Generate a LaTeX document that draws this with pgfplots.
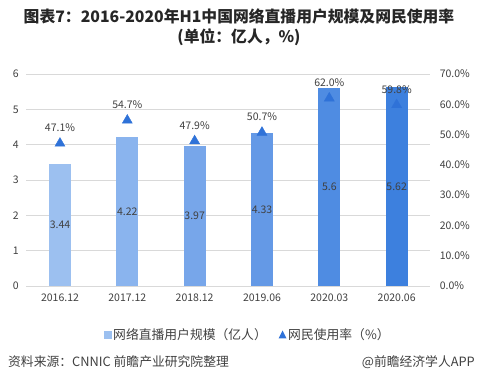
\documentclass[border=0pt]{standalone}
\usepackage{pgfplots}
\pgfplotsset{compat=1.18}
\usepackage{fontspec}
\setmainfont{Noto Sans CJK SC}
\definecolor{b1}{HTML}{9CC0F0}
\definecolor{b2}{HTML}{8AB4EE}
\definecolor{b3}{HTML}{77A6EA}
\definecolor{b4}{HTML}{6499E6}
\definecolor{b5}{HTML}{4F8CE2}
\definecolor{b6}{HTML}{3D80DE}
\definecolor{tri}{HTML}{2F72D8}
\definecolor{txt}{HTML}{404040}
\definecolor{gridc}{HTML}{D9D9D9}
\begin{document}
\begin{tikzpicture}
\path[use as bounding box] (0pt,0pt) rectangle (478pt,382pt);
\node[font=\bfseries\fontsize{15.8}{20}\selectfont, align=center, text=black!85] at (239pt,355pt) {图表7：2016-2020年H1中国网络直播用户规模及网民使用率\\(单位：亿人，\%)};
\begin{axis}[at={(26.3pt,96pt)}, anchor=south west, scale only axis, width=404pt, height=212pt,
  xmin=-0.5, xmax=5.5, ymin=0, ymax=6, ytick={0,1,...,6}, xtick={0,...,5},
  xticklabels={2016.12,2017.12,2018.12,2019.06,2020.03,2020.06},
  ymajorgrids, grid style={gridc, line width=0.6pt},
  axis x line*=bottom, axis y line*=left, y axis line style={draw=none},
  x axis line style={gridc, line width=0.8pt, -},
  major tick length=0pt,
  tick label style={font=\fontsize{10.5}{12}\selectfont, text=txt},
  /pgf/number format/assume math mode=true,
  yticklabel style={xshift=-4pt},
  xticklabel style={yshift=-4pt},
  clip=false]
\addplot[ybar, bar width=22pt, bar shift=0pt, fill=b1, draw=none] coordinates {(0,3.44)};
\addplot[ybar, bar width=22pt, bar shift=0pt, fill=b2, draw=none] coordinates {(1,4.22)};
\addplot[ybar, bar width=22pt, bar shift=0pt, fill=b3, draw=none] coordinates {(2,3.97)};
\addplot[ybar, bar width=22pt, bar shift=0pt, fill=b4, draw=none] coordinates {(3,4.33)};
\addplot[ybar, bar width=22pt, bar shift=0pt, fill=b5, draw=none] coordinates {(4,5.6)};
\addplot[ybar, bar width=22pt, bar shift=0pt, fill=b6, draw=none] coordinates {(5,5.62)};
\addplot[draw=none, mark=none, nodes near coords, point meta=explicit symbolic,
  every node near coord/.append style={anchor=center, font=\fontsize{10.5}{12}\selectfont, text=txt}]
  coordinates {(0,1.72)[3.44] (1,2.11)[4.22] (2,1.985)[3.97] (3,2.165)[4.33] (4,2.8)[5.6] (5,2.81)[5.62]};
\end{axis}
\begin{axis}[at={(26.3pt,96pt)}, anchor=south west, scale only axis, width=404pt, height=212pt,
  xmin=-0.5, xmax=5.5, ymin=0, ymax=70, ytick={0,10,...,70},
  yticklabels={0.0\%,10.0\%,20.0\%,30.0\%,40.0\%,50.0\%,60.0\%,70.0\%},
  axis y line*=right, axis x line=none, y axis line style={draw=none},
  major tick length=0pt,
  tick label style={font=\fontsize{10.5}{12}\selectfont, text=txt},
  yticklabel style={xshift=6pt},
  clip=false]
\addplot[only marks, mark=triangle*, mark size=5.8pt, color=tri,
  nodes near coords, point meta=explicit symbolic,
  every node near coord/.append style={anchor=south, yshift=8pt, font=\fontsize{10.5}{12}\selectfont, text=txt}]
  coordinates {(0,47.1)[47.1\%] (1,54.7)[54.7\%] (2,47.9)[47.9\%] (3,50.7)[50.7\%] (4,62.0)[62.0\%] (5,59.8)[59.8\%]};
\end{axis}
\fill[b1] (104pt,43pt) rectangle (112pt,51pt);
\node[anchor=west, font=\fontsize{12.8}{14}\selectfont, text=txt, inner sep=0pt] at (113pt,47pt) {网络直播用户规模（亿人）};
\fill[tri] (278.5pt,43.5pt) -- (286.5pt,43.5pt) -- (282.5pt,51.5pt) -- cycle;
\node[anchor=west, font=\fontsize{12.8}{14}\selectfont, text=txt, inner sep=0pt] at (288pt,47pt) {网民使用率（\%）};
\node[anchor=west, font=\fontsize{12.8}{14}\selectfont, text=txt, inner sep=0pt] at (8pt,20pt) {资料来源：CNNIC 前瞻产业研究院整理};
\node[anchor=east, font=\fontsize{12.8}{14}\selectfont, text=txt, inner sep=0pt] at (475pt,20pt) {@前瞻经济学人APP};
\end{tikzpicture}
\end{document}
